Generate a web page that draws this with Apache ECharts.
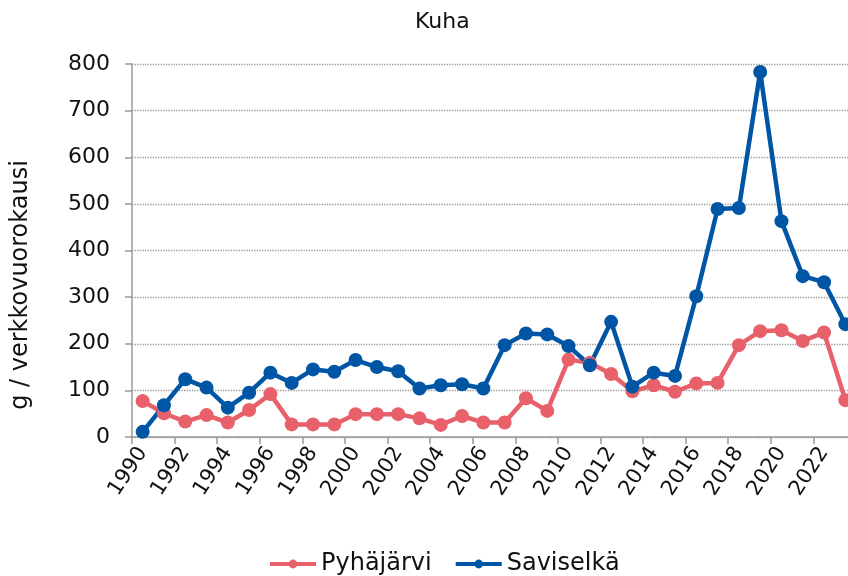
<!DOCTYPE html>
<html>
<head>
<meta charset="utf-8">
<script src="https://cdn.jsdelivr.net/npm/echarts@6/dist/echarts.min.js"></script>
<style>
  html, body { margin: 0; padding: 0; background: #fff; overflow: hidden; }
  /* plot runs a little past the right edge, as in the original picture */
  #chart { width: 856px; height: 576px; }
</style>
</head>
<body>
<div id="chart"></div>
<script>
// vuodet 1990-2023
var years = [];
for (var y = 1990; y <= 2023; y++) years.push(String(y));

var pyhajarvi = [77, 51, 33, 47, 31, 58, 92, 27, 27, 27, 49, 49, 49, 40, 26, 45, 31, 31, 83, 56,
                 166, 159, 135, 98, 111, 97, 115, 116, 197, 227, 229, 206, 224, 79];
var saviselka = [11, 68, 124, 106, 63, 95, 138, 116, 145, 140, 165, 150, 141, 104, 111, 113, 104, 197, 222, 220,
                 195, 154, 247, 108, 138, 131, 302, 489, 491, 783, 463, 345, 332, 242];

var font = '"DejaVu Sans", sans-serif';

var chart = echarts.init(document.getElementById('chart'));

function serie(name, data, color) {
    return {
        name: name,
        type: 'line',
        data: data,
        symbol: 'circle',
        symbolSize: 14,
        lineStyle: { color: color, width: 4.5 },
        itemStyle: { color: color },
        animation: false
    };
}

var option = {
    backgroundColor: '#fff',
    title: {
        text: 'Kuha',
        left: 410,
        top: 6,
        textStyle: { fontFamily: font, fontSize: 22, fontWeight: 'normal', color: '#111' }
    },
    legend: {
        top: 547,
        left: 263,
        itemWidth: 46,
        itemHeight: 11,
        itemGap: 22,
        lineStyle: { width: 4 },
        textStyle: { fontFamily: font, fontSize: 24, color: '#111' },
        data: ['Pyhäjärvi', 'Saviselkä']
    },
    grid: { left: 132, right: 0, top: 64, bottom: 139, containLabel: false },
    xAxis: {
        type: 'category',
        data: years,
        boundaryGap: true,
        axisLine: { lineStyle: { color: '#999', width: 1.5 } },
        axisTick: { show: true, length: 7, lineStyle: { color: '#999', width: 1.5 } },
        axisLabel: {
            interval: 1,
            rotate: 57,
            margin: 12,
            fontFamily: font,
            fontSize: 21,
            color: '#111'
        }
    },
    yAxis: {
        type: 'value',
        min: 0,
        max: 800,
        interval: 100,
        axisLine: { show: true, lineStyle: { color: '#999', width: 1.5 } },
        axisTick: { show: true, length: 7, lineStyle: { color: '#999', width: 1.5 } },
        axisLabel: { fontFamily: font, fontSize: 22, color: '#111', margin: 22 },
        splitLine: { lineStyle: { color: '#999', type: 'dotted', width: 1.3 } }
    },
    // akselin nimi omana tekstinään, jotta sen voi sijoittaa kuten alkuperäisessä
    graphic: [{
        type: 'text',
        x: 21,
        y: 285,
        rotation: Math.PI / 2,
        style: {
            text: 'g / verkkovuorokausi',
            font: '24px "DejaVu Sans", sans-serif',
            fill: '#111',
            align: 'center',
            verticalAlign: 'middle'
        }
    }],
    series: [
        serie('Pyhäjärvi', pyhajarvi, '#e8606a'),
        serie('Saviselkä', saviselka, '#0056a4')
    ]
};

chart.setOption(option);
</script>
</body>
</html>
